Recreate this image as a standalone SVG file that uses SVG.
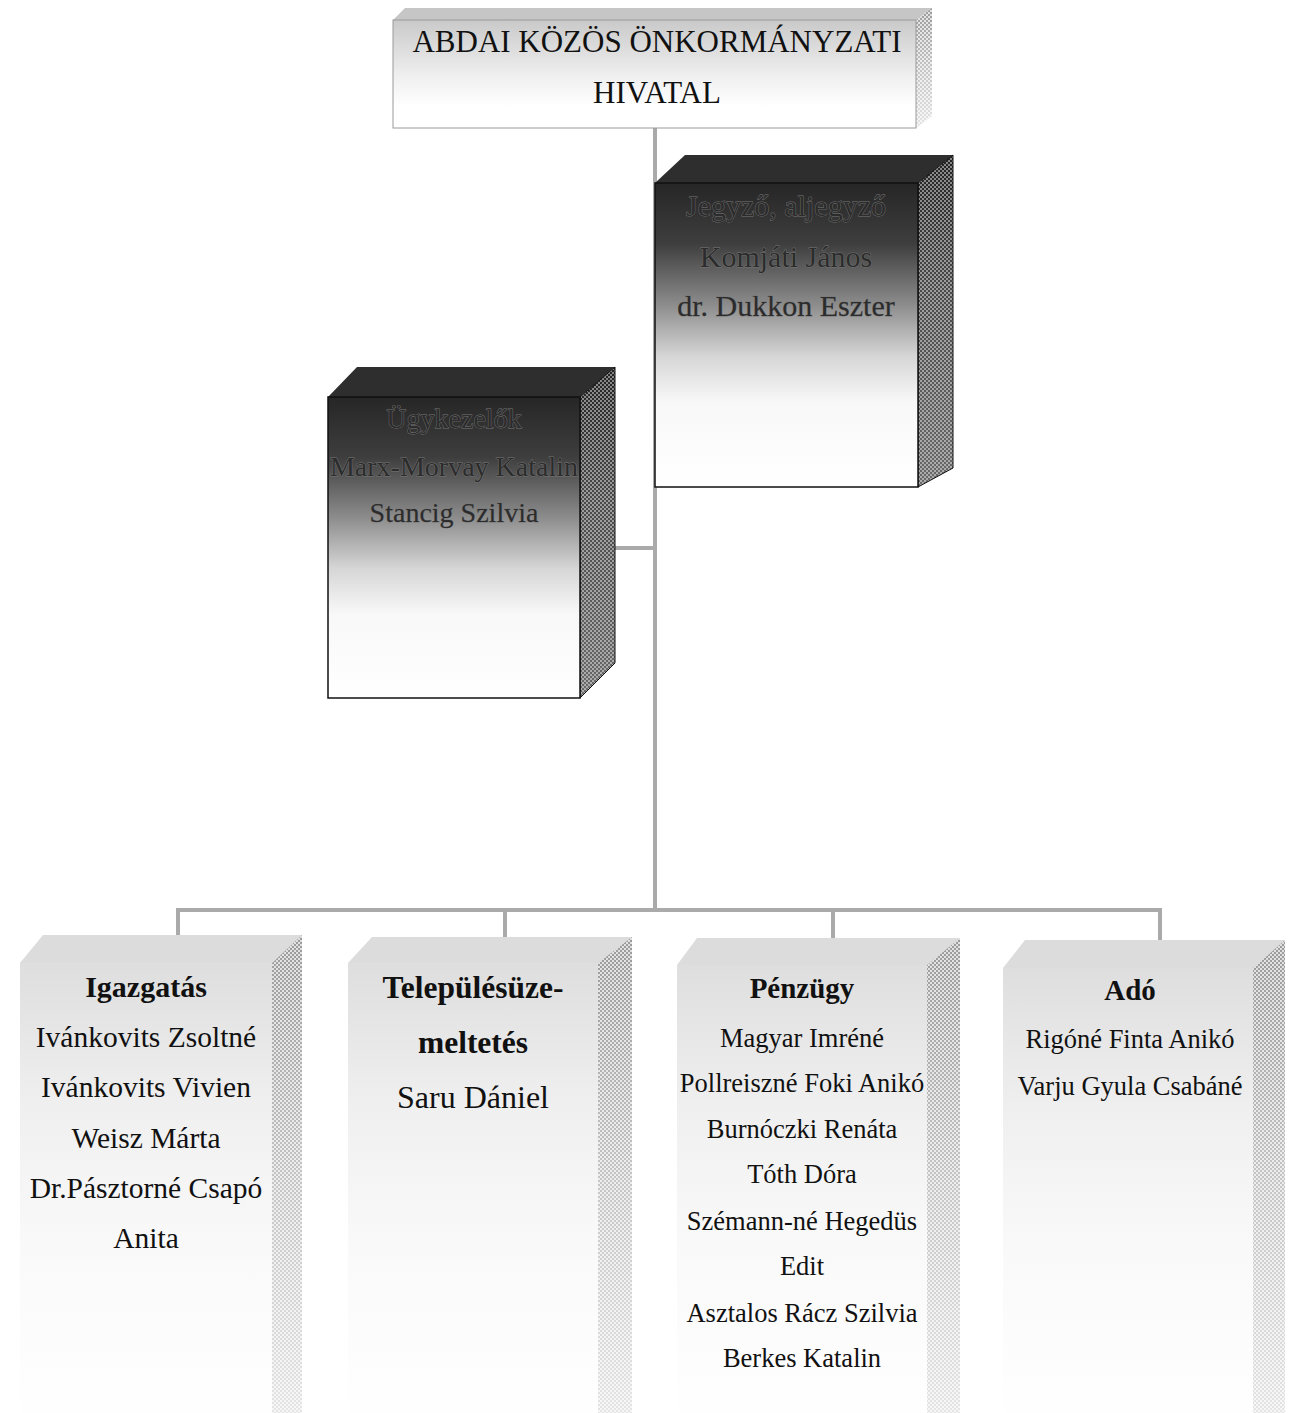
<svg xmlns="http://www.w3.org/2000/svg" width="1292" height="1413" viewBox="0 0 1292 1413">
<defs>
<linearGradient id="gTop" x1="0" y1="0" x2="0" y2="1">
<stop offset="0" stop-color="#c9c9c9"/><stop offset="0.5" stop-color="#eeeeee"/><stop offset="0.8" stop-color="#ffffff"/>
</linearGradient>
<linearGradient id="gDark" x1="0" y1="0" x2="0" y2="1">
<stop offset="0" stop-color="#262626"/><stop offset="0.2" stop-color="#3e3e3e"/><stop offset="0.4" stop-color="#8c8c8c"/><stop offset="0.57" stop-color="#d6d6d6"/><stop offset="0.72" stop-color="#f8f8f8"/><stop offset="1" stop-color="#ffffff"/>
</linearGradient>
<linearGradient id="gDarkSide" x1="0" y1="0" x2="0" y2="1">
<stop offset="0" stop-color="#222222"/><stop offset="0.4" stop-color="#4a4a4a"/><stop offset="1" stop-color="#6a6a6a"/>
</linearGradient>
<linearGradient id="gLight" x1="0" y1="0" x2="0" y2="1">
<stop offset="0" stop-color="#dedede"/><stop offset="0.3" stop-color="#efefef"/><stop offset="0.6" stop-color="#f9f9f9"/><stop offset="1" stop-color="#ffffff"/>
</linearGradient>
<linearGradient id="gLightSide" x1="0" y1="0" x2="0" y2="1">
<stop offset="0" stop-color="#9a9a9a"/><stop offset="0.5" stop-color="#c4c4c4"/><stop offset="1" stop-color="#e4e4e4"/>
</linearGradient>
<pattern id="pCheck" width="4" height="4" patternUnits="userSpaceOnUse">
<rect x="0" y="0" width="2" height="2" fill="#ffffff" fill-opacity="0.45"/><rect x="2" y="2" width="2" height="2" fill="#ffffff" fill-opacity="0.45"/>
</pattern>
<pattern id="pDots" width="4" height="4" patternUnits="userSpaceOnUse">
<rect x="0" y="0" width="2" height="2" fill="#ffffff" fill-opacity="0.7"/><rect x="2" y="2" width="2" height="2" fill="#ffffff" fill-opacity="0.7"/>
</pattern>
</defs>
<style>
.t{font-family:"Liberation Serif","Times New Roman",serif;text-anchor:middle;fill:#111}
.b{font-weight:bold}
.dk{fill:#2c2c2c;stroke:#777777;stroke-width:0.8;paint-order:stroke}
.conn{fill:none;stroke:#aaaaaa;stroke-width:4}
.frontD{stroke:#111;stroke-width:1.5}
</style>
<rect width="1292" height="1413" fill="#ffffff"/>

<g id="connectors">
<path class="conn" d="M655 128 V910"/>
<path class="conn" d="M613 548 H655"/>
<path class="conn" d="M176 910 H1162"/>
<path class="conn" d="M178 910 V936"/>
<path class="conn" d="M505 910 V938"/>
<path class="conn" d="M833 910 V939"/>
<path class="conn" d="M1160 910 V941"/>
</g>

<g id="node-hivatal">
<polygon points="393,20 405,8 932,8 916,20" fill="#c6c6c6"/>
<polygon points="916,20 932,8 932,116 916,128" fill="url(#gLightSide)"/>
<polygon points="916,20 932,8 932,116 916,128" fill="url(#pDots)"/>
<rect x="393" y="20" width="523" height="108" fill="url(#gTop)" stroke="#9a9a9a" stroke-width="1"/>
<text class="t" x="657" y="52" font-size="31">ABDAI KÖZÖS ÖNKORMÁNYZATI</text>
<text class="t" x="657" y="103" font-size="31">HIVATAL</text>
</g>

<g id="node-jegyzo">
<polygon points="655,183 685,155 953,155 918,183" fill="#2e2e2e"/>
<polygon points="918,183 953,155 953,468 918,487" fill="url(#gDarkSide)"/>
<polygon points="918,183 953,155 953,468 918,487" fill="url(#pCheck)" stroke="#111" stroke-width="1"/>
<rect class="frontD" x="655" y="183" width="263" height="304" fill="url(#gDark)"/>
<text class="t dk" x="786" y="216" font-size="30">Jegyző, aljegyző</text>
<text class="t dk" x="786" y="267" font-size="30">Komjáti János</text>
<text class="t dk" x="786" y="316" font-size="30">dr. Dukkon Eszter</text>
</g>

<g id="node-ugykezelok">
<polygon points="328,397 357,367 615,367 580,397" fill="#2e2e2e"/>
<polygon points="580,397 615,367 615,663 580,698" fill="url(#gDarkSide)"/>
<polygon points="580,397 615,367 615,663 580,698" fill="url(#pCheck)" stroke="#111" stroke-width="1"/>
<rect class="frontD" x="328" y="397" width="252" height="301" fill="url(#gDark)"/>
<text class="t dk" x="454" y="428" font-size="28">Ügykezelők</text>
<text class="t dk" x="454" y="476" font-size="28">Marx-Morvay Katalin</text>
<text class="t dk" x="454" y="522" font-size="28">Stancig Szilvia</text>
</g>

<g id="node-igazgatas">
<polygon points="20,963 43,935 302,935 272,963" fill="#dcdcdc"/>
<polygon points="272,963 302,935 302,1413 272,1413" fill="url(#gLightSide)"/>
<polygon points="272,963 302,935 302,1413 272,1413" fill="url(#pDots)"/>
<rect x="20" y="963" width="252" height="460" fill="url(#gLight)"/>
<text class="t b" x="146" y="997" font-size="30">Igazgatás</text>
<text class="t" x="146" y="1047" font-size="29.5">Ivánkovits Zsoltné</text>
<text class="t" x="146" y="1097" font-size="29.5">Ivánkovits Vivien</text>
<text class="t" x="146" y="1148" font-size="29.5">Weisz Márta</text>
<text class="t" x="146" y="1198" font-size="29.5">Dr.Pásztorné Csapó</text>
<text class="t" x="146" y="1248" font-size="29.5">Anita</text>
</g>

<g id="node-telepules">
<polygon points="348,963 372,937 632,937 598,963" fill="#dcdcdc"/>
<polygon points="598,963 632,937 632,1413 598,1413" fill="url(#gLightSide)"/>
<polygon points="598,963 632,937 632,1413 598,1413" fill="url(#pDots)"/>
<rect x="348" y="963" width="250" height="460" fill="url(#gLight)"/>
<text class="t b" x="473" y="998" font-size="31.5">Településüze-</text>
<text class="t b" x="473" y="1053" font-size="31.5">meltetés</text>
<text class="t" x="473" y="1108" font-size="32">Saru Dániel</text>
</g>

<g id="node-penzugy">
<polygon points="677,965 697,938 960,938 927,965" fill="#dcdcdc"/>
<polygon points="927,965 960,938 960,1413 927,1413" fill="url(#gLightSide)"/>
<polygon points="927,965 960,938 960,1413 927,1413" fill="url(#pDots)"/>
<rect x="677" y="965" width="250" height="460" fill="url(#gLight)"/>
<text class="t b" x="802" y="998" font-size="29">Pénzügy</text>
<text class="t" x="802" y="1047" font-size="26.5">Magyar Imréné</text>
<text class="t" x="802" y="1092" font-size="26.5">Pollreiszné Foki Anikó</text>
<text class="t" x="802" y="1138" font-size="26.5">Burnóczki Renáta</text>
<text class="t" x="802" y="1183" font-size="26.5">Tóth Dóra</text>
<text class="t" x="802" y="1230" font-size="26.5">Szémann-né Hegedüs</text>
<text class="t" x="802" y="1275" font-size="26.5">Edit</text>
<text class="t" x="802" y="1322" font-size="26.5">Asztalos Rácz Szilvia</text>
<text class="t" x="802" y="1367" font-size="26.5">Berkes Katalin</text>
</g>

<g id="node-ado">
<polygon points="1003,968 1025,940 1285,940 1253,968" fill="#dcdcdc"/>
<polygon points="1253,968 1285,940 1285,1413 1253,1413" fill="url(#gLightSide)"/>
<polygon points="1253,968 1285,940 1285,1413 1253,1413" fill="url(#pDots)"/>
<rect x="1003" y="968" width="250" height="460" fill="url(#gLight)"/>
<text class="t b" x="1130" y="1000" font-size="29">Adó</text>
<text class="t" x="1130" y="1048" font-size="26.5">Rigóné Finta Anikó</text>
<text class="t" x="1130" y="1095" font-size="26.5">Varju Gyula Csabáné</text>
</g>
</svg>
